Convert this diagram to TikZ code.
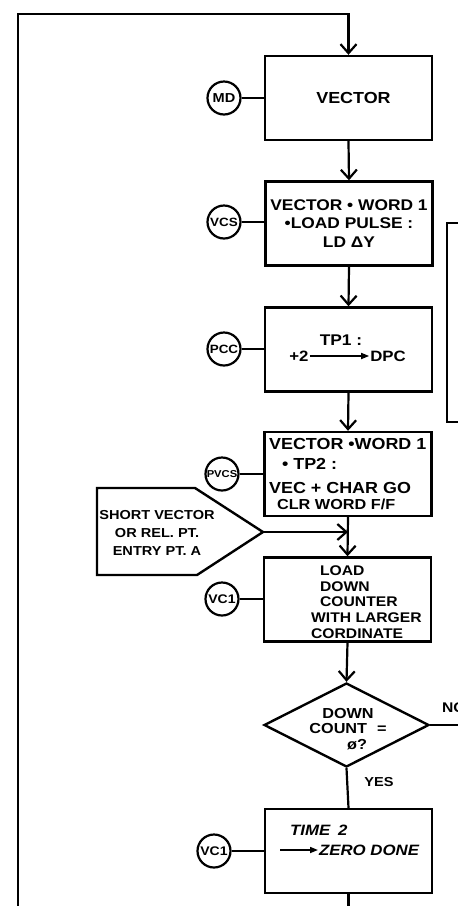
\documentclass[tikz,border=0pt]{standalone}
\usepackage{fontspec}
\setmainfont{Liberation Sans}
\newfontfamily\hand[FakeStretch=1.12]{Liberation Sans Bold}
\newfontfamily\handit[FakeStretch=1.12]{Liberation Sans Bold Italic}
\usetikzlibrary{arrows.meta,shapes.geometric}
\begin{document}
\begin{tikzpicture}[x=1pt,y=-1pt,
  line width=2.2pt,
  box/.style={draw, line width=2.4pt, minimum width=167pt, minimum height=84pt, inner sep=0pt},
  conn/.style={draw, circle, line width=2.2pt, minimum size=33pt, inner sep=0pt},
  flow/.style={-{Straight Barb[length=9pt,width=16pt,line width=2.2pt]}},
  small/.style={-{Triangle[length=8pt,width=6pt]}, line width=1.6pt},
  lbl/.style={inner sep=0pt, align=center}
]
\useasboundingbox (0,0) rectangle (458,906);

% process boxes
\node[box, font=\hand\fontsize{16}{16}\selectfont] (vec) at (348.5,98) {\hspace{10pt}VECTOR};
\node[box, align=center, font=\hand\fontsize{15.5}{18.5}\selectfont] (vcs) at (349,223.5)
  {VECTOR • WORD 1\\•LOAD PULSE :\\LD ΔY};
\node[box] (pcc) at (348.5,349.5) {};
\node[box] (pvcs) at (348,474) {};
\node[box] (load) at (347.5,599.5) {};
\node[diamond, draw, line width=2.4pt, minimum width=165pt, minimum height=84pt, inner sep=0pt, aspect=1.96] (dec) at (346.5,725) {};
\node[box] (time) at (348.5,851) {};

% texts inside boxes
\node[lbl, font=\hand\fontsize{15.5}{16}\selectfont] (tp1) at (341,340) {TP1 :};
\node[lbl, font=\hand\fontsize{15}{16}\selectfont] (p2) at (299,356) {+2};
\node[lbl, font=\hand\fontsize{15}{16}\selectfont] (dpc) at (388,356) {DPC};
\draw[small] (p2.east) -- (dpc.west);

\node[lbl, anchor=west, align=left, font=\hand\fontsize{16}{18}\selectfont] (pvcst) at (268,474)
  {VECTOR •WORD 1\\[2pt]\hspace{13pt}• TP2 :\\[6pt]VEC + CHAR GO\\[-2pt]\hspace{8pt}{\fontsize{14.5}{16}\selectfont CLR WORD F/F}};

\node[lbl, anchor=west, align=left, font=\hand\fontsize{14}{15.8}\selectfont] (loadt) at (310,603)
  {\hspace{9pt}LOAD\\\hspace{9pt}DOWN\\\hspace{9pt}COUNTER\\WITH LARGER\\\underline{CORDINATE}};

\node[lbl, font=\hand\fontsize{14.5}{15.5}\selectfont] (dect) at (348,729)
  {DOWN\\COUNT\hspace{10pt}=\\\hspace{18pt}ø?};

\node[lbl, anchor=west, font=\handit\fontsize{15}{16}\selectfont] (t2) at (289,830) {TIME\hspace{8pt}2};
\node[lbl, anchor=west, font=\handit\fontsize{15}{16}\selectfont] (zd) at (318,850) {ZERO DONE};
\coordinate (zstart) at (280,850);
\draw[small] (zstart) -- (zd.west);

% connector circles
\node[conn, font=\hand\fontsize{13}{13}\selectfont] (cmd) at (224,98) {MD};
\node[conn, font=\hand\fontsize{12}{12}\selectfont] (cvcs) at (224,222) {VCS};
\node[conn, font=\hand\fontsize{12}{12}\selectfont] (cpcc) at (224,349) {PCC};
\node[conn, font=\hand\fontsize{10}{10}\selectfont] (cpvcs) at (222,474) {PVCS};
\node[conn, font=\hand\fontsize{12.5}{12}\selectfont] (cvc1) at (222,599) {VC1};
\node[conn, font=\hand\fontsize{12.5}{12}\selectfont] (cvc2) at (214,851) {VC1};
\draw (cmd.east) -- (cmd.east -| vec.west);
\draw (cvcs.east) -- (cvcs.east -| vcs.west);
\draw (cpcc.east) -- (cpcc.east -| pcc.west);
\draw (cpvcs.east) -- (cpvcs.east -| pvcs.west);
\draw (cvc1.east) -- (cvc1.east -| load.west);
\draw (cvc2.east) -- (cvc2.east -| time.west);

% entry pentagon
\draw[line width=2.4pt] (97,488) -- (195,488) -- (263,532) -- (197,575) -- (97,575) -- cycle;
\coordinate (ptip) at (263,532);
\node[lbl, font=\hand\fontsize{13}{18}\selectfont] (entry) at (157,533)
  {SHORT VECTOR\\OR REL. PT.\\ENTRY PT. A};
\coordinate (join) at (pvcs.south |- ptip);
\draw[flow] (ptip) -- (join);

% main flow
\coordinate (lbot) at (18,906);
\coordinate (ltop) at (18,14);
\coordinate (rtop) at (vec.north |- ltop);
\draw[flow] (lbot) -- (ltop) -- (rtop) -- (vec.north);
\draw[flow] (vec.south) -- (vcs.north);
\draw[flow] (vcs.south) -- (pcc.north);
\draw[flow] (pcc.south) -- (pvcs.north);
\draw[flow] (pvcs.south) -- (load.north);
\draw[flow] (load.south) -- (dec.north);
\draw (dec.south) -- (time.north);
\node[lbl, font=\hand\fontsize{13}{14}\selectfont] (yes) at (379,782) {YES};
\coordinate (noend) at (464,725);
\draw (dec.east) -- (noend);
\node[lbl, anchor=west, font=\hand\fontsize{14}{14}\selectfont] (no) at (441,708) {NO};
\coordinate (bend) at (time.south |- lbot);
\draw (time.south) -- (bend);

% right bracket box (cut off)
\draw[line width=2.4pt] (462,223) -- (447,223) -- (447,422) -- (462,422);
\end{tikzpicture}
\end{document}
